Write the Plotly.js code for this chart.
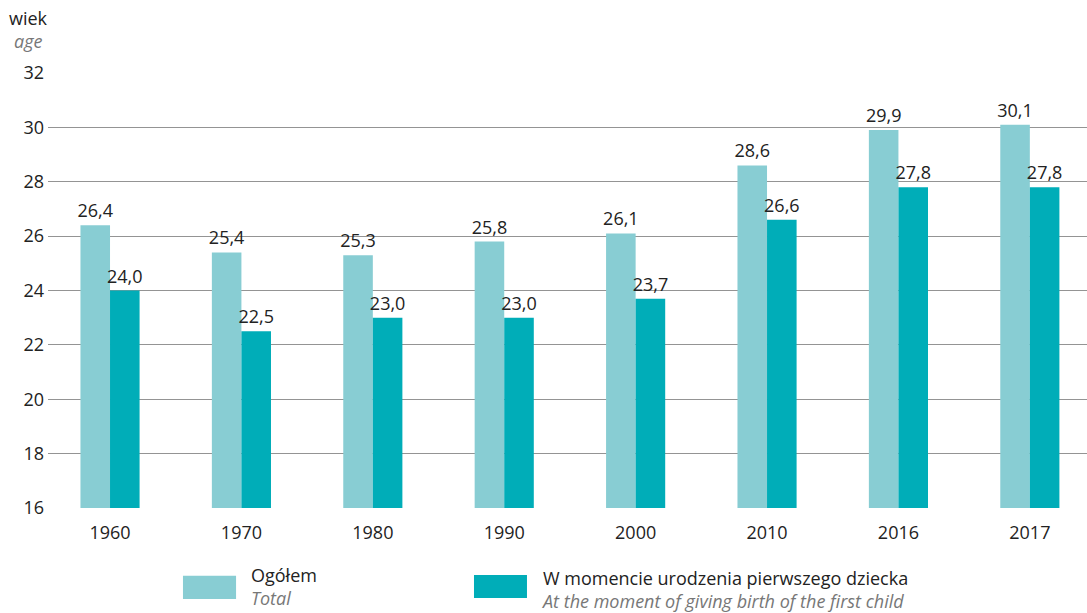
<!DOCTYPE html>
<html><head><meta charset="utf-8">
<script src="https://cdn.plot.ly/plotly-3.0.1.min.js"></script>
<style>body{margin:0;padding:0;background:#fff}#chart{width:1087px;height:613px}</style>
</head><body><div id="chart"></div>
<script>
const years = ['1960','1970','1980','1990','2000','2010','2016','2017'];
const totalAge = [26.4, 25.4, 25.3, 25.8, 26.1, 28.6, 29.9, 30.1];
const firstChildAge = [24.0, 22.5, 23.0, 23.0, 23.7, 26.6, 27.8, 27.8];
const seriesNames = ['Ogółem', 'W momencie urodzenia pierwszego dziecka'];
const seriesNamesEn = ['Total', 'At the moment of giving birth of the first child'];
const colors = ['#88cdd3', '#00adb8'];
const font = 'Open Sans, Liberation Sans, sans-serif';

const traces = [totalAge, firstChildAge].map((vals, i) => ({
  type: 'bar', x: years, y: vals, name: seriesNames[i],
  marker: {color: colors[i]},
  texttemplate: '%{y:.1f}', textposition: 'outside', cliponaxis: false,
  constraintext: 'none',
  textfont: {family: font, size: 18, color: '#222'},
  hoverinfo: 'x+y'
}));

function legendText(i) {
  return seriesNames[i] + '<br><span style="color:#777"><i>' + seriesNamesEn[i] + '</i></span>';
}

const layout = {
  width: 1087, height: 613,
  margin: {l: 48, r: 0, t: 73, b: 105},
  separators: ', ',
  barmode: 'group', bargap: 0.55, bargroupgap: 0,
  showlegend: false,
  plot_bgcolor: '#fff', paper_bgcolor: '#fff',
  font: {family: font, size: 18, color: '#222'},
  xaxis: {type: 'category', range: [-0.472, 7.435], showgrid: false, zeroline: false,
          showline: false, ticks: 'outside', ticklen: 8, tickcolor: 'rgba(0,0,0,0)',
          tickfont: {size: 18, color: '#222'}},
  yaxis: {range: [16, 32], dtick: 2, showgrid: true, gridcolor: '#949494', gridwidth: 1,
          zeroline: false, showline: false, ticks: '', ticklabelstandoff: 3,
          tickfont: {size: 18, color: '#222'}, layer: 'below traces'},
  annotations: [
    {xref: 'paper', yref: 'paper', x: -0.039, y: 1.1264, xanchor: 'left', yanchor: 'middle',
     text: 'wiek', showarrow: false, font: {size: 18, color: '#222'}},
    {xref: 'paper', yref: 'paper', x: -0.035, y: 1.074, xanchor: 'left', yanchor: 'middle',
     text: '<i>age</i>', showarrow: false, font: {size: 18, color: '#777'}},
    {xref: 'paper', yref: 'paper', x: 0.1935, y: -0.238, xanchor: 'left', yanchor: 'bottom',
     align: 'left', text: legendText(0), showarrow: false, font: {size: 18, color: '#222'}},
    {xref: 'paper', yref: 'paper', x: 0.4725, y: -0.1874, xanchor: 'left', yanchor: 'middle',
     align: 'left', text: legendText(1), showarrow: false, font: {size: 18, color: '#222'}}
  ],
  shapes: [
    {type: 'rect', xref: 'paper', yref: 'paper', x0: 0.1299, x1: 0.181, y0: -0.156, y1: -0.209,
     fillcolor: colors[0], line: {width: 0}},
    {type: 'rect', xref: 'paper', yref: 'paper', x0: 0.41, x1: 0.461, y0: -0.154, y1: -0.207,
     fillcolor: colors[1], line: {width: 0}}
  ]
};
Plotly.newPlot('chart', traces, layout, {displayModeBar: false, staticPlot: true});
</script></body></html>
